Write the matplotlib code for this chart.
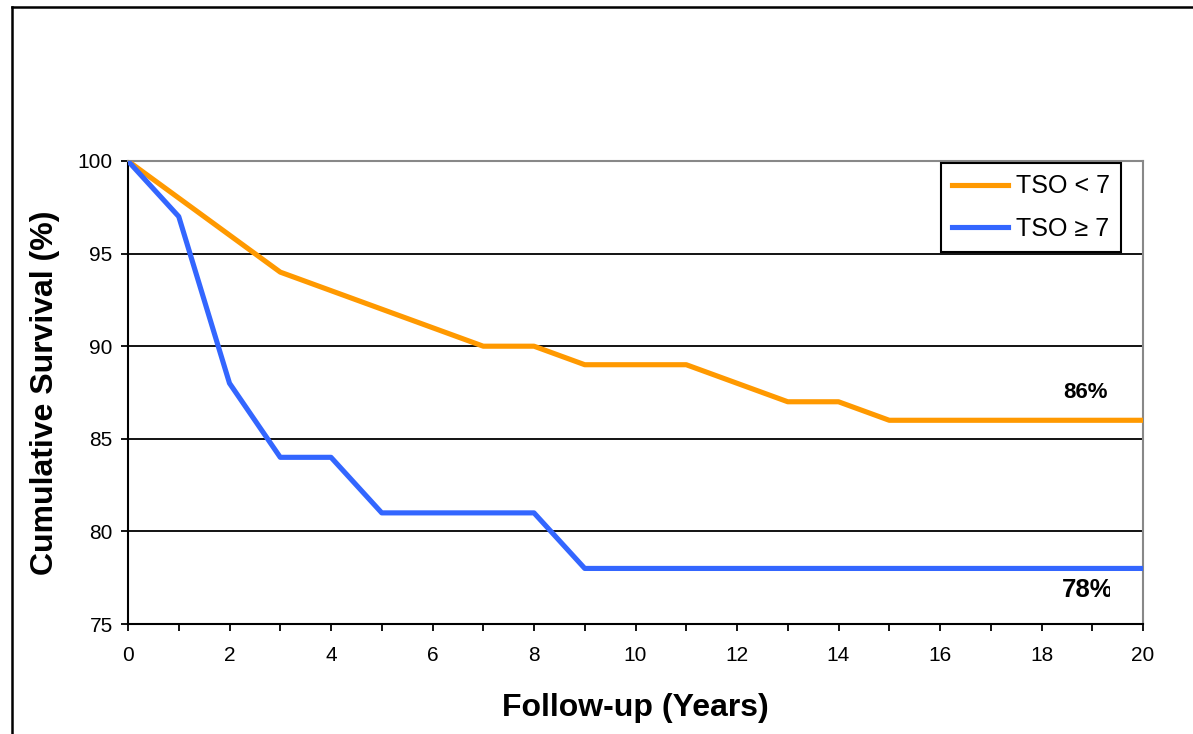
import matplotlib
matplotlib.use("Agg")
import matplotlib.pyplot as plt
from matplotlib.lines import Line2D
from matplotlib.patches import Rectangle

plt.rcParams['font.family'] = ['Liberation Sans', 'DejaVu Sans']

years = list(range(0, 21))
tso_lt7 = [100, 98, 96, 94, 93, 92, 91, 90, 90, 89, 89, 89, 88, 87, 87, 86, 86, 86, 86, 86, 86]
tso_ge7 = [100, 97, 88, 84, 84, 81, 81, 81, 81, 78, 78, 78, 78, 78, 78, 78, 78, 78, 78, 78, 78]
series_labels = ["TSO < 7", "TSO \u2265 7"]
end_labels = ["86%", "78%"]
x_ticks = list(range(0, 21, 2))
y_ticks = [75, 80, 85, 90, 95, 100]

W, H = 1193, 734
fig = plt.figure(figsize=(W / 100, H / 100), dpi=100)
ax = fig.add_axes([128 / W, 1 - 624 / H, (1143 - 128) / W, (624 - 161) / H])

orange = "#FF9900"
blue = "#3366FF"

for yv in [80, 85, 90, 95]:
    ax.axhline(yv, color="black", lw=1.3, zorder=1)

ax.plot(years, tso_lt7, color=orange, lw=3.7, label=series_labels[0], zorder=3)
ax.plot(years, tso_ge7, color=blue, lw=3.7, label=series_labels[1], zorder=3)

ax.set_xlim(0, 20)
ax.set_ylim(75, 100)
ax.set_xticks(x_ticks)
ax.set_xticks(list(range(1, 21, 2)), minor=True)
ax.set_yticks(y_ticks)
ax.tick_params(axis='both', which='both', direction='out', length=5, width=1.3, colors='black', labelsize=15)
ax.tick_params(axis='x', which='both', pad=11)
ax.tick_params(axis='y', pad=6)

for s in ['left', 'bottom']:
    ax.spines[s].set_color('black')
    ax.spines[s].set_linewidth(1.5)
for s in ['top', 'right']:
    ax.spines[s].set_color('#888888')
    ax.spines[s].set_linewidth(1.5)

ax.set_xlabel("Follow-up (Years)", fontsize=23, fontweight='bold', labelpad=20)
ax.set_ylabel("Cumulative Survival (%)", fontsize=23, fontweight='bold', labelpad=13)

ax.text(1085 / W, 1 - 392 / H, end_labels[0], transform=fig.transFigure, fontsize=16,
        fontweight='bold', ha='center', va='center')
t78 = ax.text(1062 / W, 1 - 590 / H, end_labels[1], transform=fig.transFigure, fontsize=18.5,
              fontweight='bold', ha='left', va='center')
clip = Rectangle((0, 0), 1110 / W, 1, transform=fig.transFigure)
t78.set_clip_path(clip)
t78.set_clip_on(True)

handles = [Line2D([], [], color=orange, lw=3.7), Line2D([], [], color=blue, lw=3.7)]
leg = fig.legend(handles, series_labels, loc='upper right',
                 bbox_to_anchor=(1121 / W, 1 - 163 / H), fontsize=18,
                 frameon=True, fancybox=False, edgecolor='black', framealpha=1,
                 handlelength=2.25, handletextpad=0.3, borderpad=0.45, labelspacing=0.75,
                 borderaxespad=0)
leg.get_frame().set_linewidth(1.5)

# outer frame (top and left edges visible)
fig.add_artist(Line2D([12 / W, 1.0], [1 - 6.5 / H, 1 - 6.5 / H], transform=fig.transFigure, color='black', lw=1.8))
fig.add_artist(Line2D([12 / W, 12 / W], [0, 1 - 6.5 / H], transform=fig.transFigure, color='black', lw=1.8))

fig.savefig("out.png", dpi=100, facecolor='white')
